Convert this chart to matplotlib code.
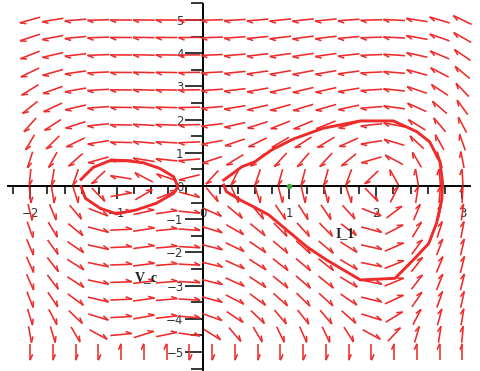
import numpy as np
import matplotlib
matplotlib.use("Agg")
import matplotlib.pyplot as plt
from matplotlib.collections import LineCollection

# ---------------------------------------------------------------
# Direction field (20 x 20 grid, like Maple's dirgrid)
# dx/dt = -field_gain * y * (y - y_root)
# dy/dt = (x - r1)(x - r2)(x - r3)
# ---------------------------------------------------------------
grid_x = np.linspace(-2, 3, 20)
grid_y = np.linspace(-5, 5, 20)
field_gain = 0.196
y_root = -5.0
x_roots = [-1.0, -0.25, 2.05]

# closed trajectories
left_orbit_x = [-1.41, -1.27, -1.08, -0.88, -0.69, -0.50, -0.34, -0.29, -0.34,
                -0.54, -0.77, -1.00, -1.19, -1.36, -1.41]
left_orbit_y = [0.20, 0.56, 0.76, 0.76, 0.70, 0.53, 0.28, -0.02, -0.22,
                -0.52, -0.72, -0.84, -0.67, -0.37, -0.02]

right_orbit_x = [0.24, 0.45, 0.60, 0.79, 1.04, 1.39, 1.82, 2.20, 2.47, 2.62,
                 2.74, 2.77, 2.76, 2.70, 2.61, 2.43, 2.22, 1.82, 1.43, 1.20,
                 0.97, 0.76, 0.58, 0.43, 0.27, 0.24]
right_orbit_y = [0.18, 0.58, 0.73, 1.08, 1.41, 1.74, 1.96, 1.96, 1.64, 1.33,
                 0.73, 0.08, -0.42, -1.12, -1.73, -2.23, -2.78, -2.83, -2.23, -1.83,
                 -1.33, -0.87, -0.62, -0.42, -0.17, 0.03]

x_major = [-2, -1, 0, 1, 2, 3]
y_major = [-5, -4, -3, -2, -1, 0, 1, 2, 3, 4, 5]

red = '#ee2a2a'

fig = plt.figure(figsize=(4.81, 3.71), dpi=100)
ax = fig.add_axes([0, 0, 1, 1])
xmin, xmax = -2.347, 3.214
ymin, ymax = -5.572, 5.602
ax.set_xlim(xmin, xmax)
ax.set_ylim(ymin, ymax)

# pixels per data unit
sx = 481 / (xmax - xmin)
sy = 371 / (ymax - ymin)

# arrows
dx_cell = grid_x[1] - grid_x[0]
dy_cell = grid_y[1] - grid_y[0]
segs = []
for yv in grid_y:
    for xv in grid_x:
        u = -field_gain * yv * (yv - y_root)
        v = (xv - x_roots[0]) * (xv - x_roots[1]) * (xv - x_roots[2])
        cu, cv = u / dx_cell, v / dy_cell
        n = np.hypot(cu, cv)
        if n == 0:
            continue
        L = 0.95
        ddx = cu / n * L * dx_cell
        ddy = cv / n * L * dy_cell
        tail = (xv - ddx / 2, yv - ddy / 2)
        tip = (xv + ddx / 2, yv + ddy / 2)
        # barb on the left side, built in pixel space
        px, py = ddx * sx, ddy * sy
        pn = np.hypot(px, py)
        ux, uy = px / pn, py / pn
        bx = -ux * 6 - uy * 2.6
        by = -uy * 6 + ux * 2.6
        barb = (tip[0] + bx / sx, tip[1] + by / sy)
        segs.append([tail, tip])
        segs.append([tip, barb])

ax.add_collection(LineCollection(segs, colors=red, linewidths=1.15, zorder=3))

# trajectories
ax.plot(left_orbit_x, left_orbit_y, color=red, lw=2.1, zorder=4)
ax.plot(right_orbit_x, right_orbit_y, color=red, lw=2.1, zorder=4)
ax.plot([1], [0], 'o', color='#44aa44', ms=3, zorder=5)

ax.text(1.64, -1.42, 'I_1', family='Liberation Serif', weight='bold',
        fontsize=10, ha='center', va='center', color='#222222')
ax.text(-0.65, -2.77, 'V_c', family='Liberation Serif', weight='bold',
        fontsize=10, ha='center', va='center', color='#222222')

# axes through the origin
for s in ['top', 'right']:
    ax.spines[s].set_visible(False)
ax.spines['left'].set_position(('data', 0))
ax.spines['bottom'].set_position(('data', 0))
ax.spines['left'].set_bounds(-5.54, 5.48)
ax.spines['bottom'].set_bounds(-2.25, 3.09)
for s in ['left', 'bottom']:
    ax.spines[s].set_linewidth(1.4)
    ax.spines[s].set_zorder(2)

ax.set_xticks(x_major)
ax.set_xticks(np.round(np.arange(-2.2, 3.01, 0.2), 2), minor=True)
ax.set_yticks(y_major)
ax.set_yticks(np.arange(-5.5, 5.51, 0.5), minor=True)
ax.set_yticklabels([str(v).replace('-', '\u2212') for v in y_major])
ax.set_xticklabels([str(v).replace('-', '\u2212') for v in x_major])

ax.tick_params(axis='x', which='major', direction='out', length=9, width=1.1,
               pad=6, labelsize=8.5, labelcolor='#333333')
ax.tick_params(axis='x', which='minor', direction='out', length=6, width=1.1)
ax.tick_params(axis='y', which='major', direction='out', length=13, width=1.1,
               pad=1, labelsize=8.5, labelcolor='#333333')
ax.tick_params(axis='y', which='minor', direction='out', length=9, width=1.1)

fig.savefig('out.png', dpi=100)
